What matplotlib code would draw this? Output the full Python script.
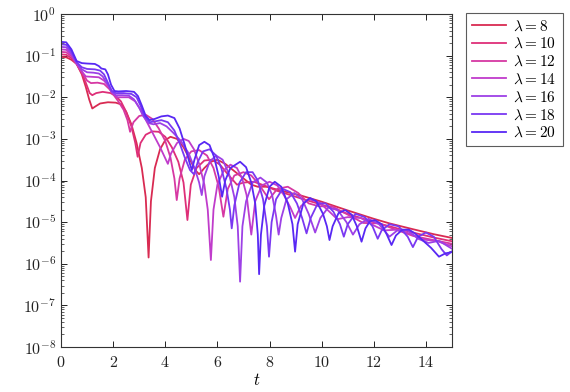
import numpy as np
import matplotlib
matplotlib.use('Agg')
import matplotlib.pyplot as plt
from matplotlib.ticker import FixedLocator, FuncFormatter, NullFormatter

plt.rcParams['mathtext.fontset'] = 'cm'
plt.rcParams['font.family'] = ['DejaVu Serif']

# curves: time t and log10 of the plotted value
lambdas = [8, 10, 12, 14, 16, 18, 20]
colors = ['#d92b52', '#de2f78', '#d638a3', '#c03ccb', '#9d40e6', '#7a38f2', '#5828f4']

t8 = [0, 0.2, 0.4, 0.6, 0.8, 0.95, 1.08, 1.2, 1.32, 1.5, 1.8, 2.1, 2.3, 2.5, 2.7, 2.9, 3.1, 3.25, 3.36, 3.45,
      3.6, 3.8, 4.0, 4.2, 4.45, 4.7, 4.95, 5.15, 5.3, 5.5, 5.75, 6.0, 6.3, 6.7, 7.0, 7.3, 7.55, 7.9, 8.3, 8.8,
      9.2, 10.0, 11.0, 12.0, 12.6, 13.5, 14.3, 15.0]
logy8 = [-1.03, -1.04, -1.1, -1.2, -1.45, -1.75, -2.05, -2.27, -2.22, -2.15, -2.12, -2.13, -2.17, -2.35, -2.65,
         -3.1, -3.7, -4.4, -5.85, -4.5, -3.7, -3.25, -3.03, -2.95, -3.0, -3.2, -3.5, -3.75, -3.85, -3.7, -3.55,
         -3.5, -3.6, -3.8, -3.95, -4.1, -4.15, -4.15, -4.22, -4.3, -4.36, -4.51, -4.72, -4.92, -5.03, -5.17,
         -5.29, -5.38]

t10 = [0, 0.2, 0.4, 0.6, 0.8, 0.95, 1.1, 1.2, 1.35, 1.6, 1.9, 2.1, 2.3, 2.5, 2.7, 2.85, 2.94, 3.05, 3.25, 3.5,
       3.75, 4.0, 4.25, 4.5, 4.7, 4.85, 4.98, 5.2, 5.5, 5.8, 6.1, 6.4, 6.75, 7.0, 7.4, 7.8, 8.3, 8.8, 9.3, 10.0,
       11.0, 12.0, 12.6, 13.5, 14.3, 15.0]
logy10 = [-0.97, -0.98, -1.06, -1.2, -1.42, -1.65, -1.9, -1.95, -1.9, -1.87, -1.9, -1.97, -2.1, -2.35, -2.7,
          -3.1, -3.43, -3.1, -2.9, -2.82, -2.83, -2.95, -3.2, -3.55, -4.05, -4.95, -4.1, -3.7, -3.52, -3.5,
          -3.62, -3.85, -4.1, -4.05, -4.03, -4.12, -4.25, -4.35, -4.45, -4.58, -4.8, -5.0, -5.1, -5.25, -5.37,
          -5.46]

t12 = [0, 0.2, 0.4, 0.6, 0.8, 1.0, 1.15, 1.4, 1.65, 1.85, 2.05, 2.2, 2.4, 2.55, 2.65, 2.78, 3.0, 3.25, 3.5,
       3.75, 4.0, 4.2, 4.35, 4.44, 4.55, 4.75, 5.0, 5.3, 5.6, 5.85, 6.05, 6.23, 6.4, 6.65, 7.0, 7.3, 7.6, 7.98,
       8.3, 8.7, 9.1, 9.5, 9.9, 10.4, 11.0, 11.6, 12.2, 12.8, 13.5, 14.2, 15.0]
logy12 = [-0.91, -0.92, -1.02, -1.2, -1.4, -1.6, -1.66, -1.65, -1.68, -1.8, -1.97, -2.1, -2.3, -2.55, -2.83,
          -2.6, -2.45, -2.42, -2.52, -2.75, -3.05, -3.45, -3.95, -4.47, -3.95, -3.5, -3.3, -3.27, -3.4, -3.7,
          -4.15, -4.87, -4.2, -3.88, -3.8, -3.88, -4.1, -4.45, -4.2, -4.15, -4.3, -4.55, -4.62, -4.62, -4.82,
          -5.02, -5.03, -5.17, -5.33, -5.42, -5.52]

t14 = [0, 0.2, 0.4, 0.6, 0.8, 0.95, 1.2, 1.45, 1.65, 1.85, 2.0, 2.15, 2.35, 2.6, 2.85, 3.05, 3.3, 3.55, 3.8,
       3.95, 4.1, 4.22, 4.45, 4.7, 4.9, 5.1, 5.3, 5.5, 5.63, 5.75, 5.85, 6.0, 6.25, 6.5, 6.75, 6.95, 7.12, 7.3,
       7.45, 7.7, 8.0, 8.3, 8.55, 8.8, 8.98, 9.2, 9.5, 9.9, 10.3, 10.6, 11.0, 11.5, 12.0, 12.4, 12.9, 13.4,
       13.9, 14.4, 15.0]
logy14 = [-0.85, -0.86, -0.98, -1.19, -1.38, -1.5, -1.51, -1.52, -1.6, -1.75, -1.9, -2.0, -2.0, -2.0, -2.1,
          -2.3, -2.6, -2.9, -3.2, -3.4, -3.6, -3.35, -3.1, -3.0, -3.05, -3.25, -3.6, -4.1, -4.7, -5.91, -4.7,
          -4.1, -3.75, -3.62, -3.7, -3.95, -4.35, -5.3, -4.5, -4.12, -4.03, -4.12, -4.35, -4.65, -4.9, -4.62,
          -4.45, -4.52, -4.75, -4.93, -4.88, -4.9, -5.08, -5.2, -5.18, -5.28, -5.42, -5.45, -5.58]

t16 = [0, 0.2, 0.4, 0.6, 0.8, 1.0, 1.25, 1.45, 1.6, 1.8, 1.95, 2.1, 2.35, 2.6, 2.8, 3.0, 3.15, 3.35, 3.55,
       3.8, 4.05, 4.3, 4.6, 4.9, 5.15, 5.3, 5.4, 5.5, 5.7, 5.95, 6.2, 6.45, 6.65, 6.78, 6.87, 6.96, 7.1, 7.35,
       7.65, 7.9, 8.1, 8.25, 8.35, 8.45, 8.65, 8.95, 9.25, 9.5, 9.75, 9.95, 10.25, 10.6, 10.95, 11.2, 11.45,
       11.8, 12.2, 12.6, 12.9, 13.3, 13.7, 14.1, 14.5, 15.0]
logy16 = [-0.79, -0.8, -0.95, -1.18, -1.33, -1.4, -1.41, -1.43, -1.5, -1.7, -1.88, -1.95, -1.95, -1.96, -2.05,
          -2.25, -2.45, -2.62, -2.65, -2.62, -2.7, -2.85, -3.05, -3.35, -3.75, -4.05, -4.35, -3.9, -3.55, -3.4,
          -3.5, -3.85, -4.4, -5.1, -6.43, -5.1, -4.5, -4.05, -3.93, -4.05, -4.35, -4.85, -5.3, -4.9, -4.45,
          -4.3, -4.45, -4.8, -5.25, -4.9, -4.65, -4.7, -5.0, -5.3, -5.05, -4.92, -5.05, -5.35, -5.2, -5.2,
          -5.4, -5.5, -5.45, -5.64]

t18 = [0, 0.2, 0.4, 0.6, 0.8, 1.0, 1.3, 1.5, 1.65, 1.8, 1.95, 2.1, 2.4, 2.7, 2.9, 3.05, 3.2, 3.4, 3.6, 3.85,
       4.1, 4.35, 4.55, 4.75, 4.95, 5.1, 5.25, 5.45, 5.7, 5.95, 6.15, 6.35, 6.48, 6.55, 6.65, 6.85, 7.1, 7.35,
       7.55, 7.75, 7.9, 7.98, 8.08, 8.25, 8.5, 8.8, 9.05, 9.25, 9.42, 9.58, 9.85, 10.15, 10.45, 10.7, 10.85,
       11.0, 11.3, 11.65, 11.95, 12.15, 12.3, 12.6, 12.95, 13.3, 13.5, 13.7, 14.0, 14.3, 14.6, 14.8, 15.0]
logy18 = [-0.73, -0.74, -0.9, -1.16, -1.28, -1.32, -1.33, -1.36, -1.45, -1.65, -1.85, -1.9, -1.9, -1.92, -2.0,
          -2.2, -2.45, -2.6, -2.58, -2.55, -2.6, -2.8, -3.1, -3.45, -3.75, -3.85, -3.55, -3.3, -3.25, -3.4,
          -3.7, -4.2, -4.7, -5.15, -4.6, -4.05, -3.8, -3.8, -4.0, -4.45, -5.1, -5.83, -5.0, -4.45, -4.2, -4.28,
          -4.55, -4.9, -5.27, -4.9, -4.55, -4.55, -4.75, -5.05, -5.35, -5.05, -4.8, -4.88, -5.1, -5.4, -5.2,
          -5.05, -5.1, -5.35, -5.6, -5.35, -5.25, -5.35, -5.65, -5.8, -5.7]

t20 = [0, 0.2, 0.4, 0.6, 0.8, 1.0, 1.3, 1.45, 1.55, 1.7, 1.8, 1.92, 2.05, 2.2, 2.5, 2.8, 2.95, 3.1, 3.25, 3.4,
       3.6, 3.85, 4.1, 4.35, 4.55, 4.75, 4.92, 5.02, 5.12, 5.3, 5.5, 5.7, 5.88, 6.05, 6.18, 6.3, 6.5, 6.87,
       7.1, 7.3, 7.45, 7.55, 7.6, 7.67, 7.8, 8.0, 8.2, 8.45, 8.7, 8.88, 8.98, 9.08, 9.3, 9.55, 9.8, 10.05,
       10.2, 10.3, 10.42, 10.65, 10.9, 11.15, 11.35, 11.53, 11.68, 11.85, 12.04, 12.3, 12.5, 12.68, 12.85,
       13.1, 13.35, 13.6, 13.9, 14.2, 14.5, 14.75, 15.0]
logy20 = [-0.67, -0.68, -0.85, -1.13, -1.18, -1.19, -1.2, -1.25, -1.31, -1.33, -1.45, -1.7, -1.85, -1.86,
          -1.85, -1.87, -1.97, -2.2, -2.45, -2.55, -2.52, -2.46, -2.44, -2.5, -2.75, -3.15, -3.55, -3.75, -3.5,
          -3.15, -3.07, -3.15, -3.45, -3.9, -4.39, -4.0, -3.7, -3.55, -3.68, -4.05, -4.55, -5.3, -6.25, -5.3,
          -4.6, -4.15, -4.03, -4.15, -4.55, -5.05, -5.71, -5.05, -4.55, -4.42, -4.5, -4.8, -5.1, -5.43, -5.1,
          -4.78, -4.71, -4.82, -5.1, -5.47, -5.15, -4.98, -4.95, -5.05, -5.3, -5.55, -5.32, -5.18, -5.18,
          -5.28, -5.45, -5.62, -5.83, -5.75, -5.72]

times = [t8, t10, t12, t14, t16, t18, t20]
logvals = [logy8, logy10, logy12, logy14, logy16, logy18, logy20]

fig = plt.figure(figsize=(5.7, 3.92), dpi=100)
ax = fig.add_axes([61 / 570, 1 - 347 / 392, (452 - 61) / 570, (347 - 14) / 392])

for lam, col, tt, lv in zip(lambdas, colors, times, logvals):
    ax.plot(tt, 10.0 ** np.array(lv), color=col, lw=1.3, solid_joinstyle='round',
            label=r'$\lambda = %d$' % lam)

ax.set_yscale('log')
ax.set_xlim(0, 15)
ax.set_ylim(1e-8, 1e0)

ax.xaxis.set_major_locator(FixedLocator([0, 2, 4, 6, 8, 10, 12, 14]))
ax.xaxis.set_major_formatter(FuncFormatter(lambda x, pos: r'$%d$' % x))
ax.yaxis.set_major_locator(FixedLocator([10.0 ** k for k in range(-8, 1)]))
ax.yaxis.set_major_formatter(FuncFormatter(lambda y, pos: r'$10^{%d}$' % round(np.log10(y))))
minors = [m * 10.0 ** k for k in range(-8, 0) for m in range(2, 10)]
ax.yaxis.set_minor_locator(FixedLocator(minors))
ax.yaxis.set_minor_formatter(NullFormatter())

ax.tick_params(which='both', direction='in', top=True, right=True, labelsize=11.5, colors='#222222')
ax.tick_params(which='major', length=4, width=0.7)
ax.tick_params(which='minor', length=2, width=0.5)
ax.tick_params(axis='x', pad=5)
for s in ax.spines.values():
    s.set_linewidth(0.8)
    s.set_color('#333333')

ax.set_xlabel(r'$t$', fontsize=12, labelpad=1)

leg = fig.legend(loc='upper left', bbox_to_anchor=(466 / 570, 1 - 13 / 392), fontsize=11,
                 frameon=True, fancybox=False, edgecolor='#333333', handlelength=2.2,
                 labelspacing=0.22, borderpad=0.4, handletextpad=0.5, borderaxespad=0)
leg.get_frame().set_linewidth(0.8)

fig.savefig('out.png', dpi=100)
